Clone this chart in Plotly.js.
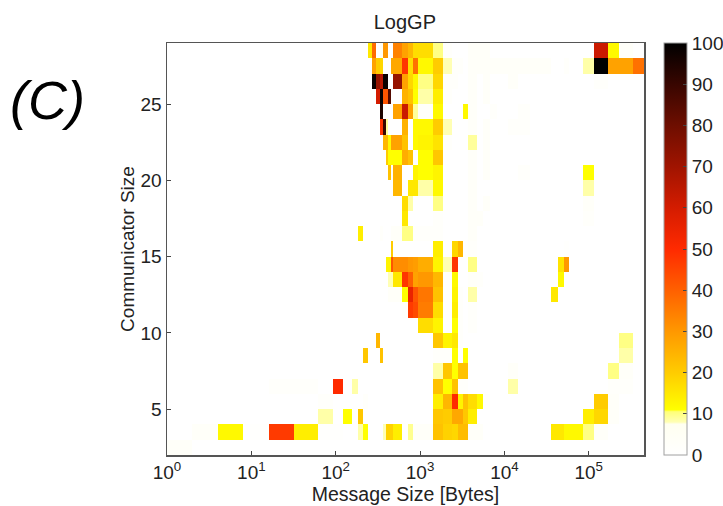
<!DOCTYPE html>
<html>
<head>
<meta charset="utf-8">
<script src="https://cdn.plot.ly/plotly-3.0.1.min.js"></script>
<style>html,body{margin:0;padding:0;background:#fff}</style>
</head>
<body>
<div id="chart" style="width:723px;height:506px"></div>
<script>
// Message size bin edges (bytes)
const sizeEdges = [1,2,4,8,16,32,61.5,92.6,122,156,183,213,243,271,299,334,366,393,419,451,480,604,723,829,949,1429,1879,2360,2826,3243,3715,4669,5593,6714,8128,11066,14521,19999,26242,36141,43251,50582,57943,85500,115610,169400,226700,334900,451900];
// Communicator size bin edges
const commEdges = [2,3,4,5,6,7,8,9,10,11,12,13,14,15,16,17,18,19,20,21,22,23,24,25,26,27,28,29];
const xTickVals = [1,10,100,1000,10000,100000];
const xTickText = ['10<sup>0</sup>','10<sup>1</sup>','10<sup>2</sup>','10<sup>3</sup>','10<sup>4</sup>','10<sup>5</sup>'];
const yTickVals = [5,10,15,20,25];
const barTicks = [0,10,20,30,40,50,60,70,80,90,100];

// Each row: [bin index, percent] pairs; unlisted bins are 0
const row2 = [[0,3]];
const row3 = [[1,3],[2,12],[3,1],[4,47],[5,14],[6,1],[7,1],[10,8.5],[11,11],[16,8],[17,19],[18,19],[19,19],[20,14],[22,9.5],[23,3],[24,3],[25,22],[26,19],[27,18],[28,23],[29,23],[30,3],[31,3],[39,15],[40,15],[41,12],[42,12],[43,10],[44,3]];
const row4 = [[6,8.5],[8,11],[10,21],[25,21],[26,20],[27,27],[28,27],[29,21],[30,14],[43,14],[44,18],[45,3]];
const row5 = [[6,2],[11,2],[25,14],[26,24],[27,50],[28,13],[29,22],[30,17],[31,12],[32,2],[44,20],[45,3]];
const row6 = [[4,2],[5,2],[7,50],[9,8.5],[25,22],[26,11],[27,22],[28,2],[29,2],[35,8.5],[45,2],[46,2]];
const row7 = [[25,8.5],[26,21],[27,11],[28,22],[29,22],[35,3],[45,10],[46,3]];
const row8 = [[11,21],[15,22],[25,2],[26,2],[27,11],[29,11],[46,8.5]];
const row9 = [[14,24],[25,21],[26,13],[27,15],[28,2],[46,10]];
const row10 = [[24,17],[25,13],[27,11],[28,2],[30,2]];
const row11 = [[21,2],[22,47],[23,44],[24,35],[25,17],[27,14],[28,2],[30,2]];
const row12 = [[18,3],[19,3],[20,3],[21,11],[22,55],[23,42],[24,36],[25,22],[27,13],[28,2],[30,8.5],[39,15]];
const row13 = [[18,8],[19,8],[20,15],[21,48],[22,40],[23,28],[24,30],[25,24],[27,12],[30,3],[31,2],[40,12]];
const row14 = [[17,13],[18,13],[19,42],[20,32],[21,32],[22,30],[23,29],[24,26],[25,13],[26,8],[27,48],[30,10],[40,16],[41,30]];
const row15 = [[19,20],[25,14],[27,18],[28,24],[30,2],[41,1]];
const row16 = [[10,14],[15,2],[19,3],[20,3],[21,10],[22,10],[23,2],[24,2],[25,2],[30,3]];
const row17 = [[21,15],[25,2],[30,3],[31,3],[43,2]];
const row18 = [[21,17],[22,8.5],[25,10],[30,3],[32,3],[43,3]];
const row19 = [[20,24],[22,15],[23,15],[24,8.5],[25,12],[30,3],[43,8.5]];
const row20 = [[18,22],[20,25],[23,13],[24,11],[25,13],[30,3],[32,3],[36,2],[43,11]];
const row21 = [[17,20],[18,11],[19,11],[20,11],[21,26],[22,22],[24,11],[25,21],[30,3],[32,3]];
const row22 = [[16,24],[17,24],[18,12],[19,28],[20,28],[21,22],[23,12],[24,13],[25,16],[26,2],[30,9],[32,3]];
const row23 = [[15,48],[16,90],[17,9],[21,25],[23,12],[24,12],[25,20],[26,8],[30,3],[32,3],[35,2],[36,2]];
const row24 = [[15,95],[20,28],[21,62],[22,28],[23,9],[24,2],[25,12],[29,12],[30,3],[33,2],[36,2]];
const row25 = [[14,60],[15,98],[16,42],[17,42],[18,85],[21,25],[22,22],[23,11],[24,8.5],[25,14],[26,2],[30,3],[32,3]];
const row26 = [[13,98],[14,72],[15,65],[16,98],[17,98],[20,72],[21,28],[22,18],[23,12],[24,10],[25,18],[26,2],[27,2],[30,3],[32,3],[35,3],[44,2]];
const row27 = [[13,28],[14,20],[15,18],[19,27],[20,27],[21,48],[22,17],[23,37],[24,12],[25,20],[26,8],[27,2],[28,2],[30,3],[31,3],[32,3],[33,3],[34,3],[35,3],[36,3],[37,3],[38,3],[41,2],[43,8.5],[44,100],[45,28],[46,28],[47,37]];
const row28 = [[12,15],[13,38],[15,5],[16,30],[17,30],[20,34],[21,28],[22,24],[23,17],[24,17],[25,10],[26,2],[30,3],[31,3],[32,3],[44,62],[45,12],[46,3]];

const allRows = [row2,row3,row4,row5,row6,row7,row8,row9,row10,row11,row12,row13,row14,row15,row16,row17,row18,row19,row20,row21,row22,row23,row24,row25,row26,row27,row28];
const z = allRows.map(r => {
  const line = new Array(sizeEdges.length - 1).fill(0);
  r.forEach(p => { line[p[0]] = p[1]; });
  return line;
});

const heatScale = [
  [0,'#ffffff'],[0.075,'#fffff0'],[0.08,'#ffffb4'],[0.105,'#ffff78'],[0.11,'#ffff00'],
  [0.20,'#ffcc00'],[0.30,'#ff9800'],[0.40,'#ff6000'],[0.50,'#ff2a00'],
  [0.60,'#d41c00'],[0.70,'#a01400'],[0.80,'#6e0e00'],[0.90,'#380600'],[1,'#000000']
];
const font = 'Liberation Sans, Helvetica, Arial, sans-serif';
const ink = '#222222';
const tickSize = 19;
const titleSize = 19.5;
const plotRight = 723 - 167 - 4; // paper width in px

Plotly.newPlot('chart', [{
  type: 'heatmap', x: sizeEdges, y: commEdges, z: z,
  zmin: 0, zmax: 100, colorscale: heatScale, hoverongaps: false,
  colorbar: {
    x: (664 - 167) / plotRight, xanchor: 'left', y: 0.5, yanchor: 'middle', len: 1, lenmode: 'fraction',
    thickness: 23, thicknessmode: 'pixels', xpad: 0, ypad: 0,
    outlinecolor: '#a0a0a0', outlinewidth: 1,
    tickmode: 'array', tickvals: barTicks, ticktext: barTicks.map(String),
    ticks: 'inside', ticklen: 4, tickcolor: '#444', tickwidth: 1,
    tickfont: {family: font, size: tickSize, color: ink}
  }
}], {
  width: 723, height: 506,
  margin: {l: 167, r: 4, t: 43, b: 51, pad: 0, autoexpand: false},
  paper_bgcolor: '#fff', plot_bgcolor: '#fff',
  font: {family: font, color: ink},
  title: {text: 'LogGP', font: {family: font, size: 20, color: ink}, x: 0.56, xref: 'container', xanchor: 'center', y: 0.957, yanchor: 'middle'},
  xaxis: {
    type: 'log', range: [0, Math.log10(451900)], domain: [0, 477 / plotRight],
    tickmode: 'array', tickvals: xTickVals, ticktext: xTickText,
    ticks: 'inside', ticklen: 4, tickcolor: '#444',
    showline: true, linecolor: '#555', linewidth: 1.5, mirror: true, showgrid: false, zeroline: false,
    tickfont: {family: font, size: tickSize, color: ink},
    title: {text: 'Message Size [Bytes]', font: {family: font, size: titleSize, color: ink}, standoff: 0}
  },
  yaxis: {
    range: [2, 29],
    tickmode: 'array', tickvals: yTickVals, ticktext: yTickVals.map(String),
    ticks: 'inside', ticklen: 4, tickcolor: '#444',
    showline: true, linecolor: '#555', linewidth: 1.5, mirror: true, showgrid: false, zeroline: false,
    tickfont: {family: font, size: tickSize, color: ink},
    title: {text: 'Communicator Size', font: {family: font, size: 19, color: ink}, standoff: 1}
  },
  annotations: [{
    text: '<i>(C)</i>', xref: 'paper', yref: 'paper', x: (48 - 167) / plotRight, y: 0.862,
    xanchor: 'center', yanchor: 'middle', showarrow: false,
    font: {family: font, size: 54, color: '#000'}
  }]
}, {displayModeBar: false, staticPlot: true});
</script>
</body>
</html>
